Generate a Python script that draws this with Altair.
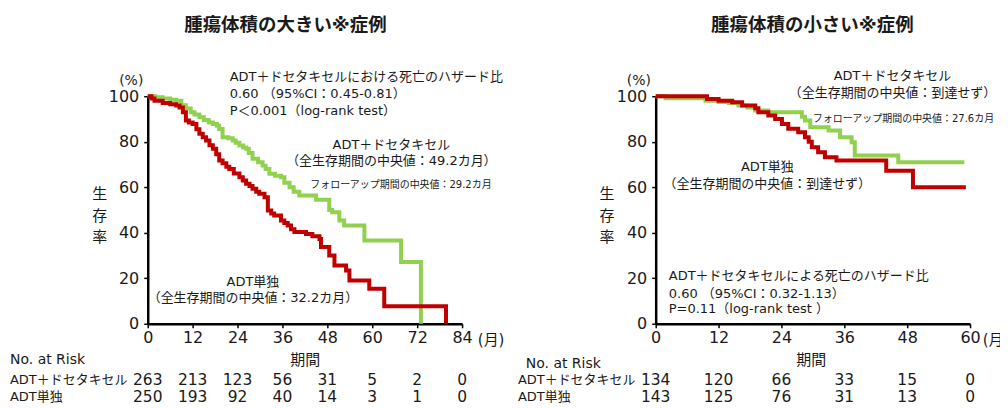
import altair as alt
import pandas as pd

FONT = "DejaVu Sans, Noto Sans CJK JP"
GREEN = "#92D050"
RED = "#C00000"
TXT = "#1a1a1a"

# ---------------- Left panel (large tumour volume) ----------------
L_doc_month = [0, 2, 4, 6, 7.6, 9, 10.2, 11.5, 12.5, 13.8, 15, 16.3, 17.4, 18.5, 19.1, 20,
               21.5, 22.7, 23.5, 24.5, 25.5, 26.3, 27, 28, 29.5, 30.7, 31.5, 32.5, 34, 35.6,
               36.5, 37.9, 39, 40.5, 45, 48.5, 49.3, 51.2, 52.5, 57.9, 67.7, 73, 73]
L_doc_surv = [100, 99.5, 99, 98.5, 98, 96, 94.6, 93, 92, 90.8, 89.5, 88.5, 87.8, 87, 85.6, 82,
              81.5, 80.5, 79.5, 78.3, 77.5, 76.9, 75, 72.5, 71, 69.5, 68, 65.9, 65, 64.4,
              62, 60, 58, 56.4, 54.5, 50, 49, 45.4, 43.2, 36.6, 27.1, 27.1, 0]
L_adt_month = [0, 1, 1.8, 4, 6, 7.6, 8.5, 9.4, 10.2, 11, 12, 13, 13.8, 14.7, 15.6, 16.5, 17.4,
               18.3, 19.1, 20, 21, 21.8, 23, 24.5, 25.4, 26.3, 27.2, 28, 29, 29.8, 31.2, 32.1,
               33, 33.8, 35.6, 36.5, 37.4, 38.3, 39.2, 42.3, 44, 45.9, 46.3, 48.5, 49.9, 53,
               53.9, 59.2, 63.2, 79.7, 79.7]
L_adt_surv = [100, 99, 98, 97, 96.5, 95.9, 95, 93, 89.3, 88.5, 87.8, 85.5, 83.5, 82, 80.5, 78.5,
              76.9, 74.5, 71.7, 70.5, 69, 68, 66, 64.4, 63, 61.5, 60.5, 59.3, 58, 57.1, 55.6,
              49.8, 48.5, 47.6, 45.4, 44.3, 43.2, 41.5, 40.3, 39.5, 38.5, 37.3, 33.7, 30, 25.6,
              23.4, 19, 15.4, 7.7, 7.7, 0]
L_risk_month = [0, 12, 24, 36, 48, 60, 72, 84]
L_risk_doc = [263, 213, 123, 56, 31, 5, 2, 0]
L_risk_adt = [250, 193, 92, 40, 14, 3, 1, 0]

# ---------------- Right panel (small tumour volume) ----------------
R_doc_month = [0, 1.9, 9.5, 12, 14, 15.8, 17.5, 19, 21.5, 27.9, 28.5, 29.5, 33, 35.2, 37.4,
               38, 46.3, 58.9]
R_doc_surv = [100, 99.1, 98, 97.5, 97, 95.9, 95, 93.7, 93, 91, 89.3, 86.4, 84.9, 82, 79.8,
              73.9, 71, 71]
R_adt_month = [0, 9.8, 12, 14.6, 16.5, 19, 19.6, 21.5, 22.8, 24.1, 25.3, 27.2, 28.5, 29.2,
               29.8, 31, 32.3, 34.5, 44, 49.1, 59.2]
R_adt_surv = [100, 98.8, 98, 97.4, 95.9, 94.7, 93, 91.5, 90, 87.8, 85.7, 84.2, 82, 80,
              77.6, 75.4, 73.2, 71.7, 67.3, 60, 60]
R_risk_month = [0, 12, 24, 36, 48, 60]
R_risk_doc = [134, 120, 66, 33, 15, 0]
R_risk_adt = [143, 125, 76, 31, 13, 0]

ROW_DOC = "ADT＋ドセタキセル"
ROW_ADT = "ADT単独"

# annotations: (month, percent, text, size, weight, align)
L_ann = [
    (36.8, 131.2, "腫瘍体積の大きい※症例", 18.5, "bold", "center"),
    (21.9, 108.3, "ADT＋ドセタキセルにおける死亡のハザード比", 13, "normal", "left"),
    (21.9, 100.9, "0.60 （95%CI：0.45-0.81）", 13, "normal", "left"),
    (21.9, 93.6, "P＜0.001（log-rank test）", 13, "normal", "left"),
    (65.1, 78.5, "ADT＋ドセタキセル", 13, "normal", "center"),
    (65.1, 71.5, "（全生存期間の中央値：49.2カ月）", 13, "normal", "center"),
    (91.9, 61.0, "フォローアップ期間の中央値：29.2カ月", 10, "normal", "right"),
    (28.1, 18.4, "ADT単独", 13, "normal", "center"),
    (28.1, 11.2, "（全生存期間の中央値：32.2カ月）", 13, "normal", "center"),
    (-4.4, 106.6, "(%)", 14, "normal", "center"),
    (-12.8, 57.0, "生", 15, "normal", "center"),
    (-12.8, 47.4, "存", 15, "normal", "center"),
    (-12.8, 38.2, "率", 15, "normal", "center"),
    (88.2, -7.0, "(月)", 15, "normal", "left"),
    (42.1, -15.8, "期間", 15, "normal", "center"),
    (-36.8, -15.8, "No. at Risk", 14, "normal", "left"),
    (-36.8, -24.9, ROW_DOC, 13, "normal", "left"),
    (-36.8, -32.0, ROW_ADT, 13, "normal", "left"),
]
R_ann = [
    (29.9, 131.2, "腫瘍体積の小さい※症例", 18.5, "bold", "center"),
    (45.2, 108.9, "ADT＋ドセタキセル", 13, "normal", "center"),
    (45.2, 101.6, "（全生存期間の中央値：到達せず）", 13, "normal", "center"),
    (64.6, 90.2, "フォローアップ期間の中央値：27.6カ月", 10, "normal", "right"),
    (21.3, 68.7, "ADT単独", 13, "normal", "center"),
    (21.3, 61.4, "（全生存期間の中央値：到達せず）", 13, "normal", "center"),
    (2.5, 21.2, "ADT＋ドセタキセルによる死亡のハザード比", 13, "normal", "left"),
    (2.5, 13.2, "0.60 （95%CI：0.32-1.13）", 13, "normal", "left"),
    (2.5, 6.6, "P=0.11（log-rank test ）", 13, "normal", "left"),
    (-3.2, 106.6, "(%)", 14, "normal", "center"),
    (-9.3, 57.0, "生", 15, "normal", "center"),
    (-9.3, 47.4, "存", 15, "normal", "center"),
    (-9.3, 38.2, "率", 15, "normal", "center"),
    (62.4, -7.0, "(月)", 15, "normal", "left"),
    (29.7, -15.8, "期間", 15, "normal", "center"),
    (-24.8, -17.5, "No. at Risk", 14, "normal", "left"),
    (-26.3, -24.9, ROW_DOC, 13, "normal", "left"),
    (-26.3, -32.0, ROW_ADT, 13, "normal", "left"),
]
RISK_ROW_P = {ROW_DOC: -24.9, ROW_ADT: -32.0}


def panel(doc_m, doc_s, adt_m, adt_s, risk_m, risk_doc, risk_adt, ann, xmax):
    xscale = alt.Scale(domain=[0, xmax], nice=False, zero=False)
    yscale = alt.Scale(domain=[0, 100], nice=False, zero=False)
    common = dict(labelFont=FONT, labelFontSize=16, labelColor=TXT, tickColor="black",
                  tickSize=4, tickWidth=1.5, domainColor="black", domainWidth=2.5,
                  grid=False, title=None, labelFlush=False, format="d")
    xaxis = alt.Axis(values=list(range(0, xmax + 1, 12)), labelPadding=2, **common)
    yaxis = alt.Axis(values=[0, 20, 40, 60, 80, 100], labelPadding=5, **common)

    def X():
        return alt.X("m:Q", scale=xscale, axis=xaxis)

    def Y():
        return alt.Y("p:Q", scale=yscale, axis=yaxis)

    doc_df = pd.DataFrame({"m": doc_m, "p": doc_s})
    adt_df = pd.DataFrame({"m": adt_m, "p": adt_s})
    layers = [
        alt.Chart(doc_df).mark_line(interpolate="step-after", strokeWidth=4, color=GREEN,
                                    clip=False).encode(x=X(), y=Y()),
        alt.Chart(adt_df).mark_line(interpolate="step-after", strokeWidth=4, color=RED,
                                    clip=False).encode(x=X(), y=Y()),
    ]
    risk_rows = []
    for mm, a, b in zip(risk_m, risk_doc, risk_adt):
        risk_rows.append({"m": mm, "p": RISK_ROW_P[ROW_DOC], "t": str(a)})
        risk_rows.append({"m": mm, "p": RISK_ROW_P[ROW_ADT], "t": str(b)})
    layers.append(alt.Chart(pd.DataFrame(risk_rows)).mark_text(
        align="center", baseline="middle", font=FONT, fontSize=15.5, color=TXT
    ).encode(x=X(), y=Y(), text="t:N"))

    ann_df = pd.DataFrame(ann, columns=["m", "p", "t", "size", "weight", "align"])
    for al in ["left", "center", "right"]:
        for wt in ["normal", "bold"]:
            sub = ann_df[(ann_df["align"] == al) & (ann_df["weight"] == wt)]
            if len(sub) == 0:
                continue
            layers.append(alt.Chart(sub).mark_text(
                align=al, baseline="middle", font=FONT, fontWeight=wt, color=TXT
            ).encode(x=X(), y=Y(), text="t:N", size=alt.Size("size:Q", scale=None)))
    return alt.layer(*layers).properties(width=315, height=228)


left = panel(L_doc_month, L_doc_surv, L_adt_month, L_adt_surv,
             L_risk_month, L_risk_doc, L_risk_adt, L_ann, 84)
right = panel(R_doc_month, R_doc_surv, R_adt_month, R_adt_surv,
              R_risk_month, R_risk_doc, R_risk_adt, R_ann, 60)

chart = alt.hconcat(left, right, spacing=194, bounds="flush").properties(
    padding={"left": 2, "top": 7, "right": -10, "bottom": 0}
).configure_view(strokeWidth=0)

chart.save("out.html", embed_options={"renderer": "svg", "actions": False})
